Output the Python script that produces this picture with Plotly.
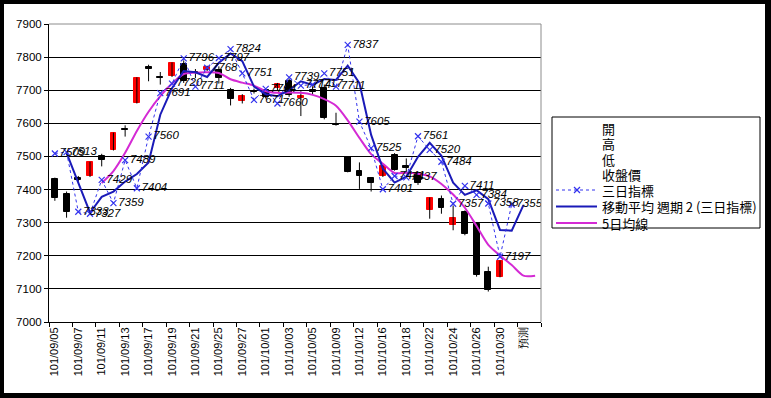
import plotly.graph_objects as go

# ---------------- data ----------------
dates = ["101/09/05", "101/09/06", "101/09/07", "101/09/10", "101/09/11", "101/09/12",
         "101/09/13", "101/09/14", "101/09/17", "101/09/18", "101/09/19", "101/09/20",
         "101/09/21", "101/09/24", "101/09/25", "101/09/26", "101/09/27", "101/09/28",
         "101/10/01", "101/10/02", "101/10/03", "101/10/04", "101/10/05", "101/10/08",
         "101/10/09", "101/10/11", "101/10/12", "101/10/15", "101/10/16", "101/10/17",
         "101/10/18", "101/10/19", "101/10/22", "101/10/23", "101/10/24", "101/10/25",
         "101/10/26", "101/10/29", "101/10/30", "101/10/31", "預測", ""]

open_ = [7432, 7387, 7435, 7440, 7502, 7520, 7584, 7662, 7770, 7740,
         7742, 7780, 7756, 7762, 7762, 7700, 7667, 7698, 7700, 7708,
         7729, 7678, 7700, 7707, 7599, 7497, 7457, 7434, 7440, 7505,
         7470, 7449, 7337, 7372, 7292, 7332, 7297, 7152, 7137]
high = [7436, 7394, 7441, 7484, 7508, 7572, 7594, 7739, 7777, 7755,
        7784, 7790, 7764, 7774, 7772, 7707, 7688, 7705, 7705, 7722,
        7735, 7697, 7712, 7717, 7632, 7500, 7482, 7436, 7474, 7510,
        7494, 7454, 7376, 7382, 7352, 7337, 7302, 7167, 7186]
low = [7366, 7315, 7424, 7438, 7470, 7518, 7560, 7660, 7727, 7717,
       7740, 7722, 7737, 7758, 7720, 7654, 7660, 7690, 7675, 7700,
       7680, 7622, 7688, 7612, 7593, 7452, 7402, 7394, 7438, 7457,
       7449, 7414, 7312, 7327, 7277, 7262, 7137, 7092, 7135]
close = [7374, 7332, 7428, 7482, 7490, 7570, 7580, 7737, 7765, 7736,
         7782, 7727, 7752, 7770, 7737, 7672, 7684, 7695, 7680, 7720,
         7686, 7682, 7695, 7617, 7595, 7454, 7440, 7420, 7472, 7459,
         7466, 7419, 7374, 7344, 7315, 7267, 7142, 7097, 7184]

three_day = [7509, 7513, 7333, 7327, 7429, 7359, 7489, 7404, 7560, 7691,
             7720, 7796, 7711, 7768, 7797, 7824, 7751, 7671, 7704, 7660,
             7739, 7714, 7717, 7751, 7711, 7837, 7605, 7525, 7401, 7441,
             7437, 7561, 7520, 7484, 7357, 7411, 7384, 7358, 7197, 7355]

ma2 = [None, 7511, 7423, 7330, 7378, 7394, 7424, 7447, 7482, 7626,
       7706, 7758, 7754, 7740, 7783, 7811, 7788, 7711, 7688, 7682,
       7700, 7727, 7716, 7734, 7731, 7774, 7721, 7565, 7463, 7421,
       7439, 7499, 7541, 7502, 7421, 7384, 7398, 7371, 7278, 7276, 7353]

ma5 = [None, None, None, None, 7420, 7456, 7511, 7577, 7635, 7682,
       7720, 7749, 7753, 7754, 7752, 7733, 7723, 7714, 7697, 7692,
       7693, 7692, 7686, 7673, 7653, 7609, 7556, 7507, 7478, 7450,
       7451, 7448, 7440, 7417, 7385, 7345, 7290, 7233, 7201, 7172,
       7140, 7140]

y_ticks = [7000, 7100, 7200, 7300, 7400, 7500, 7600, 7700, 7800, 7900]
legend_names = ["開", "高", "低", "收盤價", "三日指標", "移動平均 週期 2 (三日指標)", "5日均線"]

# ---------------- figure ----------------
pos = list(range(len(dates)))
n_c = len(close)

RED = "#ff0000"
BLACK = "#000000"
DOT_BLUE = "#3333ee"
MA_BLUE = "#1a1ab8"
MAGENTA = "#d42ad4"

fig = go.Figure()

# candle bodies
body_base = [min(o, c) for o, c in zip(open_, close)]
body_h = [abs(c - o) for o, c in zip(open_, close)]
body_col = [RED if c > o else BLACK for o, c in zip(open_, close)]
fig.add_trace(go.Bar(x=pos[:n_c], y=body_h, base=body_base, width=0.5,
                     marker=dict(color=body_col, line=dict(color=body_col, width=1)),
                     showlegend=False, hoverinfo="skip"))

# wicks
wx, wy = [], []
for i in range(n_c):
    wx += [pos[i], pos[i], None]
    wy += [low[i], high[i], None]
fig.add_trace(go.Scatter(x=wx, y=wy, mode="lines", line=dict(color=BLACK, width=1),
                         showlegend=False, hoverinfo="skip"))

fig.add_trace(go.Scatter(
    x=pos[:len(ma5)], y=ma5, mode="lines", name=legend_names[6],
    line=dict(color=MAGENTA, width=2, shape="spline", smoothing=0.8),
    showlegend=False,
))

fig.add_trace(go.Scatter(
    x=pos[:len(ma2)], y=ma2, mode="lines", name=legend_names[5],
    line=dict(color=MA_BLUE, width=2), showlegend=False,
))

fig.add_trace(go.Scatter(
    x=pos[:len(three_day)], y=three_day, mode="lines+markers+text", name=legend_names[4],
    line=dict(color=DOT_BLUE, width=1, dash="dot"),
    marker=dict(symbol="x-thin", size=6, line=dict(color=DOT_BLUE, width=1.2), color=DOT_BLUE),
    text=[str(v) for v in three_day], textposition="middle right",
    textfont=dict(family="Liberation Sans", size=11.5, color="black", style="italic"),
    showlegend=False,
))

L, R, T, B = 49, 230, 24, 76
W, H = 771, 398
pw, ph = W - L - R, H - T - B


def px_x(p):
    return (p - L) / pw


def px_y(p):
    return (H - B - p) / ph


even = [i for i in pos if i % 2 == 0 and dates[i] != ""]

# ---- legend drawn as a box of shapes and texts ----
leg_x0, leg_x1, leg_y0, leg_y1 = 552, 760, 117, 228
row_y = [128, 143.5, 159, 174.5, 190, 206.5, 223]
sym_x0, sym_x1, text_x = 556, 597, 600

shapes = [
    dict(type="rect", xref="paper", yref="paper",
         x0=px_x(4), x1=px_x(765), y0=px_y(393), y1=px_y(4),
         fillcolor="white", line=dict(width=0), layer="below"),
    dict(type="line", xref="paper", yref="paper", x0=0, x1=1, y0=1, y1=1,
         line=dict(color="#8c8c8c", width=1), layer="above"),
    dict(type="line", xref="paper", yref="paper", x0=1, x1=1, y0=0, y1=1,
         line=dict(color="#8c8c8c", width=1), layer="above"),
    dict(type="rect", xref="paper", yref="paper",
         x0=px_x(leg_x0), x1=px_x(leg_x1), y0=px_y(leg_y1), y1=px_y(leg_y0),
         fillcolor="white", line=dict(color="black", width=1), layer="above"),
    # three-day indicator sample
    dict(type="line", xref="paper", yref="paper",
         x0=px_x(sym_x0), x1=px_x(sym_x1), y0=px_y(row_y[4]), y1=px_y(row_y[4]),
         line=dict(color=DOT_BLUE, width=1, dash="dot"), layer="above"),
    dict(type="line", xref="paper", yref="paper",
         x0=px_x(574), x1=px_x(580), y0=px_y(row_y[4] - 3), y1=px_y(row_y[4] + 3),
         line=dict(color=DOT_BLUE, width=1.2), layer="above"),
    dict(type="line", xref="paper", yref="paper",
         x0=px_x(574), x1=px_x(580), y0=px_y(row_y[4] + 3), y1=px_y(row_y[4] - 3),
         line=dict(color=DOT_BLUE, width=1.2), layer="above"),
    # moving average sample
    dict(type="line", xref="paper", yref="paper",
         x0=px_x(sym_x0), x1=px_x(sym_x1), y0=px_y(row_y[5]), y1=px_y(row_y[5]),
         line=dict(color=MA_BLUE, width=2), layer="above"),
    # 5-day sample
    dict(type="line", xref="paper", yref="paper",
         x0=px_x(sym_x0), x1=px_x(sym_x1), y0=px_y(row_y[6]), y1=px_y(row_y[6]),
         line=dict(color=MAGENTA, width=2), layer="above"),
]

annotations = [
    dict(xref="paper", yref="paper", x=px_x(text_x), y=px_y(ry), text=nm,
         xanchor="left", yanchor="middle", showarrow=False,
         font=dict(family="Noto Sans CJK TC", size=13, color="black"))
    for nm, ry in zip(legend_names, row_y)
]

fig.update_layout(
    width=W, height=H,
    margin=dict(l=L, r=R, t=T, b=B, pad=0),
    paper_bgcolor="black",
    plot_bgcolor="white",
    font=dict(family="Liberation Sans", color="black"),
    bargap=0,
    showlegend=False,
    xaxis=dict(
        range=[-0.5, len(dates) - 0.5],
        tickmode="array", tickvals=even, ticktext=[dates[i] for i in even],
        tickangle=-90, ticks="", showgrid=False, zeroline=False,
        showline=True, linecolor="black", linewidth=1,
        tickfont=dict(family="Liberation Sans", size=11, color="black"),
        minor=dict(tickmode="linear", tick0=-0.5, dtick=2, ticks="outside",
                   ticklen=4, tickcolor="black", tickwidth=1, showgrid=False),
        fixedrange=True,
    ),
    yaxis=dict(
        range=[y_ticks[0], y_ticks[-1]],
        tickmode="array", tickvals=y_ticks, ticktext=[str(v) for v in y_ticks],
        showgrid=True, gridcolor="black", gridwidth=1, zeroline=False,
        showline=True, linecolor="black", linewidth=1,
        ticks="outside", ticklen=4, tickcolor="black",
        tickfont=dict(family="Liberation Sans", size=11.5, color="black"),
        fixedrange=True,
    ),
    shapes=shapes,
    annotations=annotations,
)

fig.write_html(
    "out.html",
    config={"displayModeBar": False},
    post_script="document.body.style.margin='0px';document.body.style.padding='0px';",
)
